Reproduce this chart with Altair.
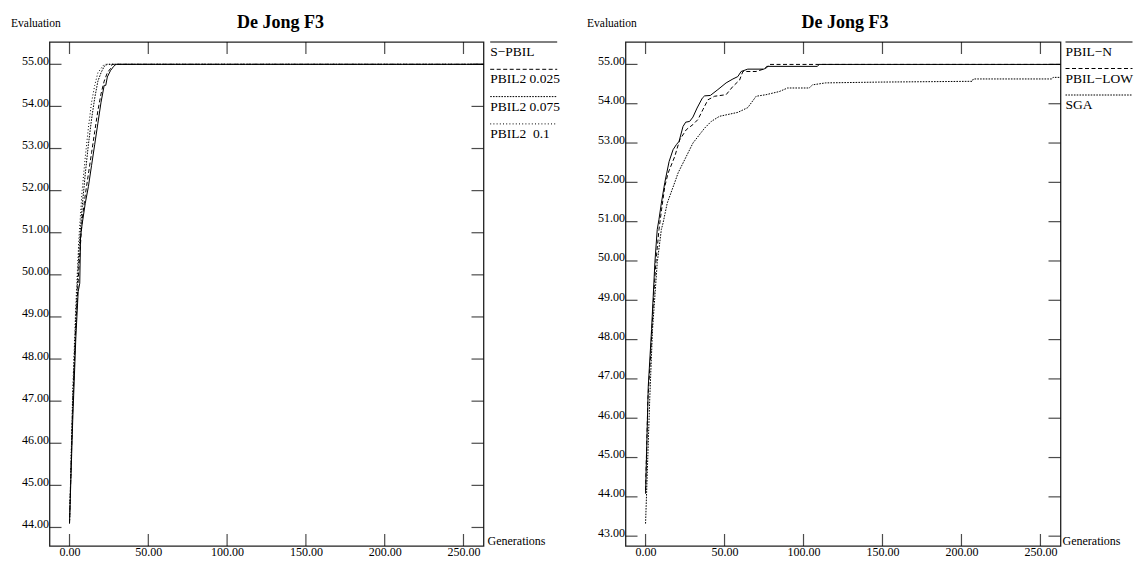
import altair as alt
import pandas as pd

FONT = "Liberation Serif"

# ---------------- data ----------------
XTICKS = [0, 50, 100, 150, 200, 250]
LEFT_YTICKS = [44, 45, 46, 47, 48, 49, 50, 51, 52, 53, 54, 55]
RIGHT_YTICKS = [43, 44, 45, 46, 47, 48, 49, 50, 51, 52, 53, 54, 55]

TITLE = "De Jong F3"
YTITLE = "Evaluation"
XTITLE = "Generations"

# Left panel
SPBIL_GEN = [0, 2, 4, 5.5, 6.5, 7, 8, 10, 12, 14, 16, 18, 20, 22, 23, 24, 26, 28, 29.5, 265]
SPBIL_VAL = [44.1, 46.5, 48.5, 49.6, 49.8, 50.9, 51.2, 51.7, 52.1, 52.6, 53.1, 53.6, 54.1, 54.5, 54.5, 54.7, 54.85, 54.95, 55, 55]

P025_GEN = [0, 2, 4, 6, 8, 10, 12, 14, 16, 18, 20, 22, 24, 26, 27, 265]
P025_VAL = [44.1, 46.8, 48.8, 50.2, 51.3, 51.9, 52.4, 52.9, 53.4, 53.9, 54.3, 54.6, 54.8, 54.9, 55, 55]

P075_GEN = [0, 2, 4, 6, 8, 10, 12, 14, 16, 18, 20, 22, 24, 265]
P075_VAL = [44.1, 47.0, 49.0, 50.6, 51.6, 52.4, 53.1, 53.7, 54.2, 54.6, 54.8, 54.95, 55, 55]

P1_GEN = [0, 2, 4, 6, 8, 10, 12, 14, 16, 18, 20, 22, 265]
P1_VAL = [44.1, 47.2, 49.3, 50.9, 52.0, 52.8, 53.5, 54.1, 54.5, 54.8, 54.9, 55, 55]

# Right panel
PBILN_GEN = [0, 1.7, 3.8, 5.9, 7.4, 8.5, 10, 12.2, 14.9, 17.4, 19.5, 21.2, 23.7, 25.4, 27.9, 30,
             32.6, 35.9, 37.4, 41, 45.8, 51, 55.3, 58.4, 60.5, 64.7, 75.2, 76.7, 108.8, 109.9, 265]
PBILN_VAL = [44.08, 46.8, 48.25, 49.96, 50.8, 51.06, 51.47, 52.0, 52.53, 52.83, 52.96, 53.04, 53.42, 53.53, 53.55, 53.66,
             53.89, 54.14, 54.2, 54.21, 54.36, 54.53, 54.63, 54.69, 54.82, 54.88, 54.88, 54.95, 54.95, 55, 55]

PLOW_GEN = [0, 1.5, 3.2, 5, 6.5, 8.5, 10.1, 12.2, 14.3, 18.5, 21.6, 25.8, 30, 33.2, 36.3, 39.5, 43.7, 51,
            55.3, 59.5, 61.6, 70, 76.3, 78.4, 265]
PLOW_VAL = [44.17, 46.5, 47.6, 49.0, 49.95, 50.8, 51.3, 51.9, 52.24, 52.66, 53.08, 53.34, 53.47, 53.6, 53.85, 54.1, 54.19, 54.23,
            54.44, 54.6, 54.82, 54.82, 54.9, 55, 55]

SGA_GEN = [0, 2.7, 4.4, 7.4, 10, 11.1, 13.7, 18.5, 20.6, 25.8, 30, 37.4, 41.6, 46.8, 58.4, 64.7, 70, 76.3,
           84.7, 89.9, 103.6, 105.7, 114, 147.7, 206.8, 207.5, 257.3, 258, 265]
SGA_VAL = [43.32, 46.55, 48.25, 49.96, 50.8, 50.97, 51.47, 52.0, 52.24, 52.66, 53.0, 53.38, 53.55, 53.68, 53.78, 53.9, 54.19, 54.23,
           54.31, 54.4, 54.4, 54.48, 54.53, 54.55, 54.57, 54.63, 54.63, 54.67, 54.67]

LEFT_NAMES = ["S\u2212PBIL", "PBIL2 0.025", "PBIL2 0.075", "PBIL2 \u00a00.1"]
RIGHT_NAMES = ["PBIL\u2212N", "PBIL\u2212LOW", "SGA"]

# ---------------- styling ----------------
SOLID = None
DASHED = [4, 2.5]
DOTS = [1.6, 1.2]
FINE_DOTS = [1, 2.2]

XDOM = [-12.7, 262.7]
H = 504


def text_layer(txt, x, y, size, weight="normal", align="left", baseline="middle"):
    return alt.Chart(pd.DataFrame({"t": [txt]})).mark_text(
        align=align, baseline=baseline, font=FONT, fontSize=size,
        fontWeight=weight, color="black"
    ).encode(x=alt.value(x), y=alt.value(y), text="t:N")


def panel(series, ydom, yticks, W, title_dx, leg_x0, leg_step, gen_dx):
    xs = alt.Scale(domain=XDOM, nice=False, zero=False)
    ys = alt.Scale(domain=ydom, nice=False, zero=False)
    xaxis = alt.Axis(values=XTICKS, format=".2f", tickSize=0, ticks=False, domain=False, grid=False,
                     labelFont=FONT, labelFontSize=12, labelPadding=0, labelColor="black",
                     labelFlush=False, labelOverlap=False, title=None)
    yaxis = alt.Axis(values=yticks, format=".2f", tickSize=0, ticks=False, domain=False, grid=False,
                     labelFont=FONT, labelFontSize=12, labelPadding=1, labelColor="black",
                     labelBaseline="alphabetic", labelFlush=False, labelOverlap=False, title=None)
    layers = []
    for i, (name, gens, vals, dash) in enumerate(series):
        df = pd.DataFrame({"gen": gens, "val": vals})
        mk = dict(color="black", strokeWidth=1, clip=True)
        if dash:
            mk["strokeDash"] = dash
        layers.append(alt.Chart(df).mark_line(**mk).encode(
            x=alt.X("gen:Q", scale=xs, axis=xaxis, title=None),
            y=alt.Y("val:Q", scale=ys, axis=yaxis, title=None),
        ))
    # inward ticks on all four sides
    xt = pd.DataFrame({"v": XTICKS})
    for ypix in (6, H - 6):
        layers.append(alt.Chart(xt).mark_tick(orient="vertical", size=12, thickness=1.2, color="black").encode(
            x=alt.X("v:Q", scale=xs, axis=xaxis, title=None), y=alt.value(ypix)))
    yt = pd.DataFrame({"v": yticks})
    for xpix in (6, W - 6):
        layers.append(alt.Chart(yt).mark_tick(orient="horizontal", size=12, thickness=1.2, color="black").encode(
            y=alt.Y("v:Q", scale=ys, axis=yaxis, title=None), x=alt.value(xpix)))
    # legend (line above label)
    for k, (name, gens, vals, dash) in enumerate(series):
        yl = k * leg_step
        mk = dict(color="black", strokeWidth=1)
        if dash:
            mk["strokeDash"] = dash
        layers.append(alt.Chart(pd.DataFrame({"t": [name]})).mark_rule(**mk).encode(
            x=alt.value(W + leg_x0), x2=alt.value(W + leg_x0 + 67), y=alt.value(yl)))
        layers.append(text_layer(name, W + leg_x0, yl + 10, 13.5))
    # titles
    layers.append(text_layer(TITLE, W / 2 + title_dx, -19.5, 18, weight="bold", align="center"))
    layers.append(text_layer(YTITLE, -38.5, -18, 11.5))
    layers.append(text_layer(XTITLE, W + gen_dx, H - 1, 12, baseline="alphabetic"))
    return alt.layer(*layers).properties(width=W, height=H)


left = panel(
    [(LEFT_NAMES[0], SPBIL_GEN, SPBIL_VAL, SOLID),
     (LEFT_NAMES[1], P025_GEN, P025_VAL, DASHED),
     (LEFT_NAMES[2], P075_GEN, P075_VAL, DOTS),
     (LEFT_NAMES[3], P1_GEN, P1_VAL, FINE_DOTS)],
    [43.56, 55.53], LEFT_YTICKS, 434, 14, 6.7, 27.3, 4)

right = panel(
    [(RIGHT_NAMES[0], PBILN_GEN, PBILN_VAL, SOLID),
     (RIGHT_NAMES[1], PLOW_GEN, PLOW_VAL, DASHED),
     (RIGHT_NAMES[2], SGA_GEN, SGA_VAL, DOTS)],
    [42.75, 55.57], RIGHT_YTICKS, 435, 2, 5, 26.5, 2)

chart = alt.hconcat(left, right, spacing=142, bounds="flush").properties(
    padding={"left": 9.5, "top": 12, "right": 0, "bottom": 0},
    background="white",
).configure(font=FONT).configure_view(stroke="#222", strokeWidth=1.3)

chart.save("out.html", embed_options={"renderer": "svg", "actions": False})
